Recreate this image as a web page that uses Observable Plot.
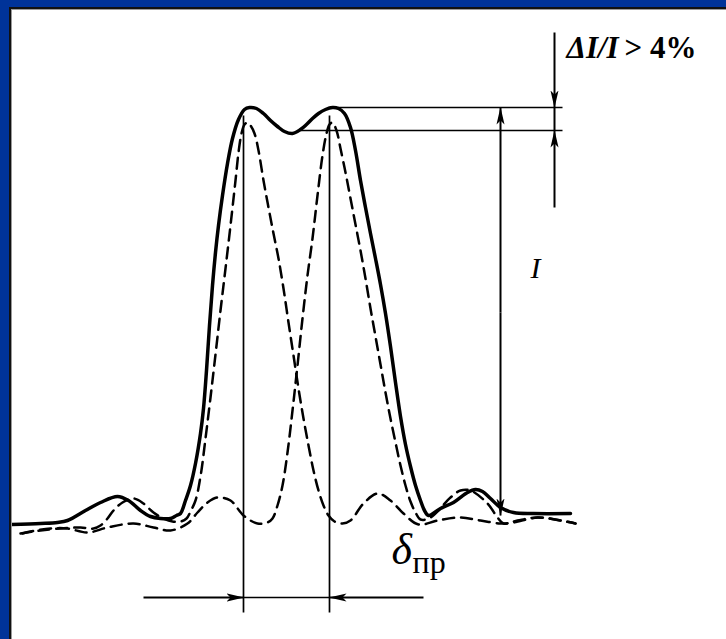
<!DOCTYPE html>
<html><head><meta charset="utf-8">
<script src="https://cdn.jsdelivr.net/npm/d3@7"></script>
<script src="https://cdn.jsdelivr.net/npm/@observablehq/plot@0.6"></script>
<style>
html,body{margin:0;padding:0;width:726px;height:639px;overflow:hidden;background:#fff;}
#wrap{position:absolute;left:0;top:0;width:726px;height:639px;overflow:hidden;background:#fff;}
#wrap svg{position:absolute;left:0;top:0;max-width:none;}
.strip{position:absolute;}
</style></head>
<body><div id="wrap">
<div class="strip" style="left:0;top:0;width:726px;height:7px;background:#003399"></div>
<div class="strip" style="left:0;top:0;width:9px;height:639px;background:#003399"></div>
<div class="strip" style="left:9px;top:7px;width:717px;height:2px;background:#111"></div>
<div class="strip" style="left:9px;top:7px;width:2px;height:632px;background:#111"></div>
<div class="strip" style="left:11px;top:9px;width:715px;height:1px;background:#9a9a9a"></div>
<div class="strip" style="left:11px;top:9px;width:1px;height:630px;background:#9a9a9a"></div>
</div>
<script>
// Resulting (summed) intensity profile: [position, intensity]
const resultCurve = [[11,1],[40,2],[57,3],[67,5],[85,15],[100,23],[117,29],[128,25],[140,15],[150,9],[160,7],[170,7],[176,10],[180,12],[185,25],[190,40],[195,62],[200,92],[203,117],[206,155],[209,200],[212,240],[215,273],[218,300],[222,330],[227,362],[232,387],[238,406],[244,416],[249,418],[256,417],[263,412],[270,405],[277,399],[284,394],[292,392],[300,396],[306,401],[312,407],[318,412],[325,416],[332,418],[338,417],[344,412],[350,398],[355,375],[360,345],[365,318],[370,292],[375,267],[380,241],[385,212],[390,179],[395,143],[400,109],[405,81],[410,59],[415,40],[420,25],[424,15],[428,10],[434,13],[440,17],[453,23],[467,33],[475,36],[482,34],[490,27],[500,18],[513,13],[533,12],[570,12]];
// First line profile (left)
const lineA = [[20,-8],[40,-5],[60,-3],[80,-2],[93,-3],[100,0],[107,7],[113,15],[122,23],[133,27],[143,22],[153,13],[163,7],[172,4],[180,4],[186,7],[190,14],[195,25],[200,49],[205,87],[210,128],[215,171],[220,215],[225,257],[230,300],[235,345],[238,373],[241,392],[244,401],[247,403],[250,400],[254,392],[258,375],[263,345],[268,318],[273,292],[278,267],[283,237],[288,203],[293,170],[298,137],[303,107],[308,80],[313,55],[318,35],[323,20],[328,10],[334,4],[342,2],[350,5],[363,22],[377,32],[390,25],[403,12],[418,1],[437,5],[460,8],[480,5],[500,2],[513,3],[537,8],[560,5],[575,2]];
// Second line profile (right)
const lineB = [[22,-8],[30,-6],[50,-3],[67,-3],[87,-7],[107,-2],[133,2],[153,-2],[170,-5],[187,2],[197,13],[207,23],[217,28],[230,25],[243,10],[257,2],[267,3],[272,7],[277,20],[282,40],[287,73],[292,115],[297,160],[302,207],[307,250],[312,287],[317,330],[322,370],[326,392],[329,401],[332,403],[336,395],[340,377],[345,353],[350,327],[355,301],[360,275],[365,247],[370,217],[375,189],[380,161],[385,133],[390,107],[395,83],[400,60],[405,40],[410,24],[415,13],[420,6],[430,8],[450,28],[460,35],[470,35],[487,22],[497,8],[503,2],[517,5],[537,8],[560,5],[575,2]];

// Annotation geometry (in the same position / intensity units)
const peakPositions = [243, 329];
const peakMarkTop = 410, peakMarkBottom = -87;
const resolutionLevel = -72;
const resolutionArrows = [{x1:143, x2:243}, {x1:423, x2:329}];
const levelLines = [{x1:337, x2:562, y:418}, {x1:300, x2:562, y:395}];
const intensityArrow = {x:500, y1:213, y2top:418, y2bottom:10};
const deltaArrows = [{x:554, y1:493, y2:418}, {x:554, y1:318, y2:395}];
const labels = [
  {x:566, y:477, text:"ΔI/I", size:31, style:"italic", weight:"bold"},
  {x:624, y:477, text:"> 4%", size:31, style:"normal", weight:"bold"},
  {x:530, y:257, text:"I", size:30, style:"italic", weight:"normal"},
  {x:391, y:-24, text:"δ", size:44, style:"italic", weight:"normal"},
  {x:412, y:-37, text:"пр", size:32, style:"normal", weight:"normal"}
];

const serif = "'Liberation Serif', 'Times New Roman', serif";
const textMarks = labels.map(l => Plot.text([l], {x:"x", y:"y", text:"text", textAnchor:"start", fontSize:l.size, fontStyle:l.style, fontWeight:l.weight, fontFamily:serif, fill:"#000"}));
const dashed = {curve:"catmull-rom", stroke:"#000", strokeWidth:2.5, strokeDasharray:"11,7"};

const chart = Plot.plot({
  width:726, height:639,
  marginTop:0, marginBottom:0, marginLeft:0, marginRight:0,
  x:{domain:[0,726], axis:null},
  y:{domain:[-114,525], axis:null},
  style:{background:"transparent"},
  marks:[
    Plot.line(lineA, {x:d=>d[0], y:d=>d[1], ...dashed}),
    Plot.line(lineB, {x:d=>d[0], y:d=>d[1], ...dashed}),
    Plot.line(resultCurve, {x:d=>d[0], y:d=>d[1], curve:"catmull-rom", stroke:"#000", strokeWidth:3.5}),
    Plot.link(peakPositions, {x1:d=>d, x2:d=>d, y1:peakMarkTop, y2:peakMarkBottom, stroke:"#000", strokeWidth:1.7}),
    Plot.link([peakPositions], {x1:d=>d[0], x2:d=>d[1], y1:resolutionLevel, y2:resolutionLevel, stroke:"#000", strokeWidth:1.7}),
    Plot.link(resolutionArrows, {x1:"x1", x2:"x2", y1:resolutionLevel, y2:resolutionLevel, stroke:"#000", strokeWidth:2, markerEnd:"arrow"}),
    Plot.link(levelLines, {x1:"x1", x2:"x2", y1:"y", y2:"y", stroke:"#000", strokeWidth:1.5}),
    Plot.link([intensityArrow], {x1:"x", x2:"x", y1:"y1", y2:"y2top", stroke:"#000", strokeWidth:2, markerEnd:"arrow"}),
    Plot.link([intensityArrow], {x1:"x", x2:"x", y1:"y1", y2:"y2bottom", stroke:"#000", strokeWidth:2, markerEnd:"arrow"}),
    Plot.link(deltaArrows, {x1:"x", x2:"x", y1:"y1", y2:"y2", stroke:"#000", strokeWidth:2, markerEnd:"arrow"}),
    Plot.link([deltaArrows], {x1:d=>d[0].x, x2:d=>d[0].x, y1:d=>d[0].y2, y2:d=>d[1].y2, stroke:"#000", strokeWidth:2}),
    ...textMarks
  ]
});

chart.querySelectorAll("marker").forEach(m => {
  m.setAttribute("viewBox", "-17 -5 18 10");
  m.setAttribute("markerUnits", "userSpaceOnUse");
  m.setAttribute("markerWidth", "18");
  m.setAttribute("markerHeight", "10");
  m.setAttribute("refX", "0");
  m.setAttribute("refY", "0");
  m.innerHTML = '<path d="M0.5,0L-17,-4L-13,0L-17,4Z" fill="#000" stroke="none"/>';
});

const wrap = document.getElementById("wrap");
wrap.insertBefore(chart, wrap.firstChild);
</script>
</body></html>
